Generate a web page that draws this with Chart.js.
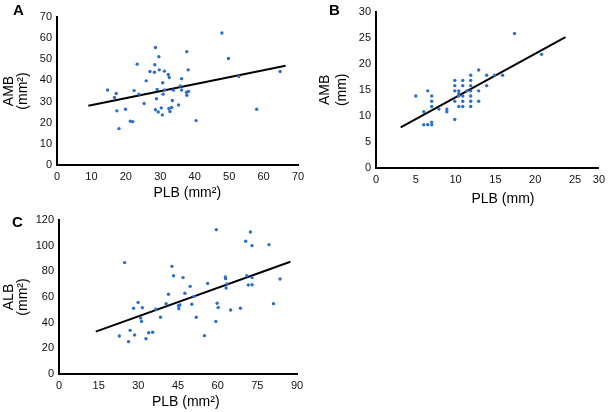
<!DOCTYPE html>
<html lang="en">
<head>
<meta charset="UTF-8" />
<title>PLB vs AMB / ALB</title>
<script src="https://cdn.jsdelivr.net/npm/chart.js@4.4.0/dist/chart.umd.min.js"></script>
<style>
  body { margin: 0; background: #fff; }
  #wrap { position: relative; width: 610px; height: 412px; overflow: hidden; font-family: "Liberation Sans", Arial, sans-serif; }
  canvas { position: absolute; }
  .tag { position: absolute; font-weight: bold; font-size: 15px; line-height: 15px; color: #000; }
</style>
</head>
<body>
<div id="wrap">
  <canvas id="chartA" width="310" height="210" style="left:0;top:0"></canvas>
  <canvas id="chartB" width="310" height="210" style="left:300px;top:0"></canvas>
  <canvas id="chartC" width="310" height="207" style="left:0;top:205px"></canvas>
  <div class="tag" style="left:13px;top:2px">A</div>
  <div class="tag" style="left:329px;top:2px">B</div>
  <div class="tag" style="left:12px;top:214px">C</div>
</div>

<script>
// panel A: PLB (mm²) vs AMB (mm²)
const aPLB = [14.7, 17.2, 16.7, 17.4, 18.0, 19.9, 21.3, 22.0, 22.4, 23.3, 23.8, 25.3, 25.9, 27.0, 28.3, 28.4, 28.6,
  29.1, 28.9, 28.6, 29.4, 29.6, 29.7, 30.3, 30.6, 30.7, 30.8, 31.2, 31.3, 32.3, 32.6, 32.5, 32.8, 33.3, 33.5, 33.8,
  35.3, 35.8, 36.2, 36.2, 37.7, 37.6, 37.7, 38.1, 38.2, 40.4, 47.9, 49.8, 52.8, 58.0, 64.8];
const aAMB = [35.5, 33.8, 31.9, 25.6, 17.2, 26.4, 20.7, 20.5, 35.2, 47.7, 33.5, 29.1, 39.8, 44.2, 43.9, 47.4, 55.6,
  35.7, 31.3, 26.1, 25.1, 51.2, 45.0, 27.0, 23.7, 38.9, 33.5, 44.4, 35.5, 42.8, 41.4, 26.7, 25.3, 27.2, 30.5, 35.4,
  28.4, 37.4, 40.8, 35.5, 53.6, 34.4, 33.0, 45.0, 34.8, 21.0, 62.4, 50.4, 41.9, 26.4, 44.2];
const aFitX = [9.1, 66.4];
const aFitY = [28.0, 46.9];

// panel B: PLB (mm) vs AMB (mm)
const bPLB = [17.4, 12.9, 11.9, 13.9, 14.9, 15.9, 9.9, 10.9, 11.9, 9.9, 10.9, 11.9, 13.9, 6.5, 9.9, 10.4, 11.4, 11.9,
  12.9, 5.0, 7.0, 10.4, 10.4, 10.9, 11.9, 7.0, 9.9, 10.9, 11.9, 12.9, 6.0, 7.0, 7.9, 8.9, 8.9, 10.4, 10.9, 11.9, 9.9,
  6.0, 6.5, 7.0, 7.0, 20.8];
const bAMB = [25.8, 18.8, 17.8, 17.8, 17.8, 17.8, 16.8, 16.8, 16.8, 15.8, 15.8, 15.8, 15.8, 14.8, 14.8, 14.8, 14.8, 14.8,
  14.8, 13.8, 13.8, 14.3, 13.8, 13.8, 13.8, 12.8, 12.8, 12.8, 12.8, 12.8, 10.8, 11.8, 11.3, 11.3, 10.8, 11.8, 11.8, 11.8, 9.3,
  8.3, 8.3, 8.8, 8.3, 21.8];
const bFitX = [3.1, 23.8];
const bFitY = [7.8, 25.1];
const bTickVals = [0, 5, 10, 15, 20, 25, 28];
const bTickLabels = ['0', '5', '10', '15', '20', '25', '30'];

// panel C: PLB (mm²) vs ALB (mm²)
const cPLB = [22.8, 24.8, 26.3, 26.9, 28.2, 28.6, 29.9, 30.9, 31.2, 31.5, 32.9, 33.9, 35.4, 36.6, 38.4, 40.5, 41.4,
  42.7, 43.3, 45.2, 45.3, 45.7, 46.9, 47.6, 49.6, 50.2, 51.1, 51.9, 55.0, 56.2, 59.3, 59.5, 59.8, 60.2, 62.9, 63.0,
  63.2, 63.5, 64.9, 68.6, 70.6, 71.0, 71.6, 72.4, 73.0, 73.0, 73.0, 79.4, 81.1, 83.6];
const cALB = [29.6, 86.8, 25.2, 34.0, 51.2, 30.4, 55.8, 43.6, 41.0, 51.7, 27.5, 32.2, 32.5, 50.4, 44.2, 54.8, 62.1,
  83.9, 76.6, 53.2, 50.9, 53.8, 75.1, 62.9, 68.3, 54.3, 60.5, 44.2, 29.9, 70.6, 41.0, 112.5, 55.1, 51.9, 75.6, 74.3,
  67.0, 70.1, 49.9, 51.2, 103.4, 76.6, 69.4, 110.6, 100.0, 75.1, 69.6, 100.8, 54.8, 74.0];
const cFitX = [13.9, 87.5];
const cFitY = [33.0, 87.5];

const dotColor = '#2b6fcc';
const fontFamily = '"Liberation Sans", Arial, sans-serif';

function pairs(xs, ys) {
  return xs.map((x, i) => ({ x: x, y: ys[i] }));
}

function panel(id, pts, fit, cfg) {
  return new Chart(document.getElementById(id), {
    type: 'scatter',
    data: {
      datasets: [
        { data: pts, backgroundColor: dotColor, borderWidth: 0, pointRadius: 1.7, order: 1 },
        { type: 'line', data: fit, borderColor: '#000', borderWidth: 2, pointRadius: 0, showLine: true, order: 2 }
      ]
    },
    options: {
      responsive: false,
      animation: false,
      layout: { padding: cfg.pad },
      plugins: { legend: { display: false }, tooltip: { enabled: false } },
      scales: {
        x: Object.assign({
          type: 'linear',
          min: cfg.xMin, max: cfg.xMax,
          grid: { display: false, drawTicks: false },
          border: { color: '#000', width: 2 },
          ticks: { stepSize: cfg.xStep, color: '#111', padding: 5, maxRotation: 0, autoSkip: false,
                   font: { family: fontFamily, size: 11 } },
          title: { display: true, text: cfg.xTitle, color: '#000', padding: { top: 0, bottom: cfg.xTitlePad },
                   font: { family: fontFamily, size: 14 } },
          afterFit: s => { s.height = cfg.xH; }
        }, cfg.xExtra || {}),
        y: {
          type: 'linear',
          min: cfg.yMin, max: cfg.yMax,
          grid: { display: false, drawTicks: false },
          border: { color: '#000', width: 2 },
          ticks: { stepSize: cfg.yStep, color: '#111', padding: 5, font: { family: fontFamily, size: 11 } },
          title: { display: true, text: cfg.yTitle, color: '#000', padding: { top: cfg.yTitlePad, bottom: 0 },
                   font: { family: fontFamily, size: 14, lineHeight: cfg.yLine } },
          afterFit: s => { s.width = cfg.yW; }
        }
      }
    }
  });
}

panel('chartA', pairs(aPLB, aAMB), pairs(aFitX, aFitY), {
  pad: { left: 0, right: 12, top: 17, bottom: 0 },
  xMin: 0, xMax: 70, xStep: 10, yMin: 0, yMax: 70, yStep: 10,
  xTitle: '     PLB (mm²)', xTitlePad: 8, xH: 45,
  yTitle: ['AMB', '(mm²)'], yTitlePad: 2, yLine: 1.0, yW: 57
});

panel('chartB', pairs(bPLB, bAMB), pairs(bFitX, bFitY), {
  pad: { left: 0, right: 8, top: 8, bottom: 0 },
  xMin: 0, xMax: 28, xStep: 5, yMin: 0, yMax: 30, yStep: 5,
  xTitle: '        PLB (mm)', xTitlePad: 2, xH: 42,
  yTitle: ['AMB', '(mm)'], yTitlePad: 17, yLine: 1.2, yW: 76,
  xExtra: {
    afterBuildTicks: s => { s.ticks = bTickVals.map(v => ({ value: v })); },
    ticks: { color: '#111', padding: 5, maxRotation: 0, autoSkip: false,
             font: { family: fontFamily, size: 11 },
             callback: (v, i) => bTickLabels[i] }
  }
});

panel('chartC', pairs(cPLB, cALB), pairs(cFitX, cFitY), {
  pad: { left: 0, right: 13, top: 15, bottom: 0 },
  xMin: 0, xMax: 90, xStep: 15, yMin: 0, yMax: 120, yStep: 20,
  xTitle: '    PLB (mm²)', xTitlePad: 1, xH: 38,
  yTitle: ['ALB', '(mm²)'], yTitlePad: 2, yLine: 1.0, yW: 59
});
</script>
</body>
</html>
